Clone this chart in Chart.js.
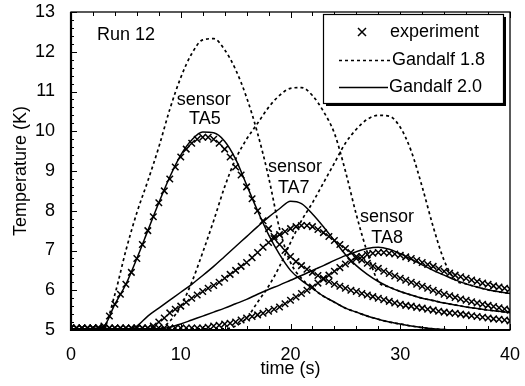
<!DOCTYPE html>
<html><head><meta charset="utf-8">
<script src="https://cdn.jsdelivr.net/npm/chart.js@4.4.1/dist/chart.umd.min.js"></script>
<style>html,body{margin:0;padding:0;background:#fff;}#wrap{width:525px;height:386px;position:relative;}</style>
</head><body><div id="wrap"><canvas id="c" width="525" height="386"></canvas></div>
<script>
// ---- data ----
const expTimes = [0,0.5,1,1.5,2,2.5,3,3.5,4,4.5,5,5.5,6,6.5,7,7.5,8,8.5,9,9.5,10,10.5,11,11.5,12,12.5,13,13.5,14,14.5,15,15.5,16,16.5,17,17.5,18,18.5,19,19.5,20,20.5,21,21.5,22,22.5,23,23.5,24,24.5,25,25.5,26,26.5,27,27.5,28,28.5,29,29.5,30,30.5,31,31.5,32,32.5,33,33.5,34,34.5,35,35.5,36,36.5,37,37.5,38,38.5,39,39.5,40];
const modelTimes = [0,1,2,3,4,5,6,7,8,9,10,11,12,13,14,15,16,17,18,19,20,21,22,23,24,25,26,27,28,29,30,31,32,33,34,35,36,37,38,39,40];

// experiment (x markers)
const ta5Exp = [5.05,5.05,5.05,5.05,5.05,5.06,5.1,5.35,5.65,5.9,6.15,6.45,6.8,7.15,7.5,7.85,8.2,8.5,8.8,9.1,9.35,9.55,9.7,9.8,9.85,9.85,9.8,9.7,9.55,9.35,9.1,8.9,8.6,8.3,8.0,7.75,7.55,7.35,7.15,7.0,6.85,6.72,6.62,6.53,6.45,6.37,6.3,6.22,6.15,6.1,6.05,6.0,5.97,5.92,5.88,5.84,5.8,5.76,5.72,5.68,5.65,5.62,5.6,5.57,5.55,5.52,5.5,5.47,5.45,5.43,5.42,5.4,5.38,5.36,5.34,5.32,5.3,5.28,5.27,5.25,5.23];
const ta7Exp = [5.05,5.05,5.05,5.05,5.05,5.05,5.05,5.05,5.05,5.05,5.05,5.05,5.05,5.05,5.05,5.1,5.2,5.3,5.43,5.52,5.6,5.7,5.8,5.88,5.97,6.05,6.12,6.2,6.3,6.4,6.5,6.6,6.7,6.82,6.95,7.08,7.2,7.3,7.4,7.48,7.55,7.6,7.63,7.63,7.6,7.53,7.45,7.35,7.25,7.15,7.05,6.95,6.85,6.76,6.68,6.61,6.55,6.48,6.42,6.36,6.3,6.25,6.2,6.15,6.1,6.05,6.0,5.95,5.9,5.86,5.82,5.78,5.75,5.71,5.68,5.65,5.62,5.59,5.56,5.53,5.5];
const ta8Exp = [5.05,5.05,5.05,5.05,5.05,5.05,5.05,5.05,5.05,5.05,5.05,5.05,5.05,5.05,5.05,5.05,5.05,5.05,5.05,5.05,5.05,5.05,5.05,5.05,5.05,5.07,5.1,5.12,5.15,5.17,5.2,5.25,5.3,5.34,5.38,5.42,5.47,5.52,5.58,5.66,5.75,5.83,5.92,6.0,6.08,6.18,6.28,6.38,6.48,6.57,6.66,6.73,6.8,6.85,6.9,6.93,6.95,6.95,6.93,6.91,6.88,6.84,6.8,6.75,6.7,6.65,6.6,6.54,6.48,6.43,6.38,6.34,6.3,6.26,6.22,6.18,6.15,6.11,6.08,6.05,6.03];

// Gandalf 1.8 (dotted)
const ta5G18 = [5.02,5.02,5.03,5.08,5.9,7.0,7.95,8.75,9.6,10.55,11.35,11.95,12.3,12.33,12.05,11.55,10.85,9.95,8.85,7.55,6.7,6.3,6.05,5.85,5.7,5.55,5.45,5.35,5.27,5.2,5.15,5.1,5.06,5.03,5.01,5.0,5.0,5.0,5.0,5.0,5.0];
const ta7G18 = [5.03,5.03,5.03,5.03,5.03,5.03,5.03,5.03,5.03,5.22,5.6,6.2,6.95,7.75,8.6,9.3,9.8,10.2,10.6,10.9,11.08,11.1,10.9,10.5,9.95,9.0,7.9,6.95,6.22,6.08,5.97,5.88,5.8,5.74,5.68,5.63,5.58,5.54,5.5,5.47,5.44];
const ta8G18 = [5.03,5.03,5.03,5.03,5.03,5.03,5.03,5.03,5.03,5.03,5.03,5.03,5.03,5.03,5.03,5.1,5.3,5.7,6.1,6.6,7.2,7.75,8.2,8.7,9.2,9.7,10.05,10.3,10.4,10.38,10.1,9.5,8.6,7.6,6.75,6.26,6.16,6.08,6.01,5.96,5.92];

// Gandalf 2.0 (solid)
const ta5G20 = [5.03,5.03,5.04,5.1,5.65,6.15,6.8,7.5,8.2,8.85,9.4,9.78,9.98,9.96,9.75,9.3,8.65,8.0,7.4,6.9,6.5,6.25,6.05,5.85,5.7,5.55,5.45,5.35,5.27,5.2,5.15,5.1,5.06,5.03,5.01,5.0,5.0,5.0,5.0,5.0,5.0];
const ta7G20 = [5.03,5.03,5.03,5.03,5.03,5.03,5.1,5.35,5.55,5.75,5.95,6.15,6.37,6.6,6.85,7.1,7.35,7.6,7.84,8.05,8.24,8.18,7.92,7.6,7.25,6.9,6.62,6.4,6.22,6.08,5.97,5.88,5.8,5.74,5.68,5.63,5.58,5.54,5.5,5.47,5.44];
const ta8G20 = [5.03,5.03,5.03,5.03,5.03,5.03,5.03,5.03,5.03,5.07,5.15,5.25,5.35,5.45,5.55,5.66,5.77,5.9,6.02,6.13,6.25,6.37,6.5,6.62,6.75,6.87,6.97,7.05,7.08,7.03,6.92,6.78,6.64,6.5,6.38,6.26,6.16,6.08,6.01,5.96,5.92];

const xTickLabels = ['0','10','20','30','40'];
const yTickLabels = ['5','6','7','8','9','10','11','12','13'];
const seriesNames = ['experiment','Gandalf 1.8','Gandalf 2.0'];
const notes = [
  {text:'Run 12', x:2.37, y:12.42, align:'left'},
  {text:'sensor', x:12.1, y:10.79, align:'center'},
  {text:'TA5', x:12.2, y:10.30, align:'center'},
  {text:'sensor', x:20.4, y:9.11, align:'center'},
  {text:'TA7', x:20.3, y:8.58, align:'center'},
  {text:'sensor', x:28.8, y:7.84, align:'center'},
  {text:'TA8', x:28.8, y:7.31, align:'center'}
];

// ---- chart ----
const FONT = '"Liberation Sans", Arial, Helvetica, sans-serif';
const pts = (ts, vs) => ts.map((t,i)=>({x:t, y:vs[i]}));
const expDS = (vals) => ({label:seriesNames[0], data:pts(expTimes, vals), showLine:false,
  pointStyle:'crossRot', pointRadius:4.6, pointBorderWidth:1.5, borderColor:'#000', backgroundColor:'#000'});
const g18DS = (vals) => ({label:seriesNames[1], data:pts(modelTimes, vals), showLine:true, pointRadius:0,
  borderColor:'#000', borderWidth:1.7, borderDash:[3,3], cubicInterpolationMode:'monotone', fill:false});
const g20DS = (vals) => ({label:seriesNames[2], data:pts(modelTimes, vals), showLine:true, pointRadius:0,
  borderColor:'#000', borderWidth:1.5, cubicInterpolationMode:'monotone', fill:false});

const decor = {
  id:'decor',
  afterDatasetsDraw(chart){
    const {ctx, chartArea:a, scales:{x, y}} = chart;
    ctx.save();
    ctx.strokeStyle = '#000';
    ctx.setLineDash([]);
    // inner tick marks
    ctx.lineWidth = 1;
    ctx.beginPath();
    for (let v = 0; v <= 40; v += 2) {
      const px = Math.round(x.getPixelForValue(v)) + 0.5;
      const len = (v % 10 === 0) ? 6 : 4;
      ctx.moveTo(px, a.bottom); ctx.lineTo(px, a.bottom - len);
      ctx.moveTo(px, a.top); ctx.lineTo(px, a.top + len);
    }
    for (let k = 0; k <= 40; k++) {
      const v = 5 + k * 0.2;
      const py = Math.round(y.getPixelForValue(v)) + 0.5;
      const len = (k % 5 === 0) ? 6 : 3;
      ctx.moveTo(a.left, py); ctx.lineTo(a.left + len, py);
    }
    ctx.stroke();
    // frame
    ctx.lineWidth = 1.3;
    ctx.strokeRect(a.left, a.top, a.right - a.left, a.bottom - a.top);
    ctx.lineWidth = 2.2;
    ctx.beginPath();
    ctx.moveTo(a.left, a.top); ctx.lineTo(a.left, a.bottom); ctx.lineTo(a.right, a.bottom);
    ctx.stroke();

    // annotations
    ctx.fillStyle = '#000';
    ctx.font = '18px ' + FONT;
    ctx.textBaseline = 'middle';
    notes.forEach(n => {
      ctx.textAlign = n.align;
      ctx.fillText(n.text, x.getPixelForValue(n.x), y.getPixelForValue(n.y));
    });

    // legend box
    const bx = 323, by = 14, bw = 180, bh = 89;
    ctx.fillStyle = '#000';
    ctx.fillRect(bx + 3, by + 3, bw, bh);
    ctx.fillStyle = '#fff';
    ctx.fillRect(bx, by, bw, bh);
    ctx.lineWidth = 1.2;
    ctx.strokeRect(bx + 0.5, by + 0.5, bw, bh);
    ctx.fillStyle = '#000';
    ctx.textAlign = 'left';
    ctx.font = '18px ' + FONT;
    const r1 = 32, r2 = 60, r3 = 87;
    ctx.lineWidth = 1.5;
    ctx.beginPath();
    ctx.moveTo(358, r1 - 4); ctx.lineTo(366, r1 + 4);
    ctx.moveTo(366, r1 - 4); ctx.lineTo(358, r1 + 4);
    ctx.stroke();
    ctx.fillText(seriesNames[0], 390, r1);
    ctx.lineWidth = 1.6;
    ctx.setLineDash([3,3]);
    ctx.beginPath(); ctx.moveTo(339, r2 + 0.5); ctx.lineTo(391, r2 + 0.5); ctx.stroke();
    ctx.setLineDash([]);
    ctx.fillText(seriesNames[1], 392, r2);
    ctx.lineWidth = 1.4;
    ctx.beginPath(); ctx.moveTo(339, r3 + 0.5); ctx.lineTo(388, r3 + 0.5); ctx.stroke();
    ctx.fillText(seriesNames[2], 389, r3);
    ctx.restore();
  }
};

new Chart(document.getElementById('c'), {
  type:'scatter',
  data:{datasets:[
    expDS(ta5Exp), expDS(ta7Exp), expDS(ta8Exp),
    g18DS(ta5G18), g18DS(ta7G18), g18DS(ta8G18),
    g20DS(ta5G20), g20DS(ta7G20), g20DS(ta8G20)
  ]},
  options:{
    responsive:false, animation:false, devicePixelRatio:1,
    layout:{padding:{left:0, top:12, right:15, bottom:0}},
    plugins:{legend:{display:false}, tooltip:{enabled:false}},
    scales:{
      x:{type:'linear', min:0, max:40,
        grid:{display:false, drawTicks:false}, border:{display:false},
        ticks:{stepSize:10, padding:14, color:'#000', font:{family:FONT, size:18},
          callback:(v)=> xTickLabels[v/10]},
        title:{display:true, text:'time (s)', color:'#000', font:{family:FONT, size:18}, padding:{top:0, bottom:6}},
        afterFit:(s)=>{ s.height = 56; s.paddingLeft = 0; s.paddingRight = 0; }
      },
      y:{type:'linear', min:5, max:13,
        grid:{display:false, drawTicks:false}, border:{display:false},
        ticks:{stepSize:1, padding:16, color:'#000', font:{family:FONT, size:18},
          callback:(v)=> yTickLabels[v-5]},
        title:{display:true, text:'Temperature (K)', color:'#000', font:{family:FONT, size:18}, padding:{top:10, bottom:0}},
        afterFit:(s)=>{ s.width = 71; s.paddingTop = 0; s.paddingBottom = 0; }
      }
    }
  },
  plugins:[decor]
});
</script>
</body></html>
